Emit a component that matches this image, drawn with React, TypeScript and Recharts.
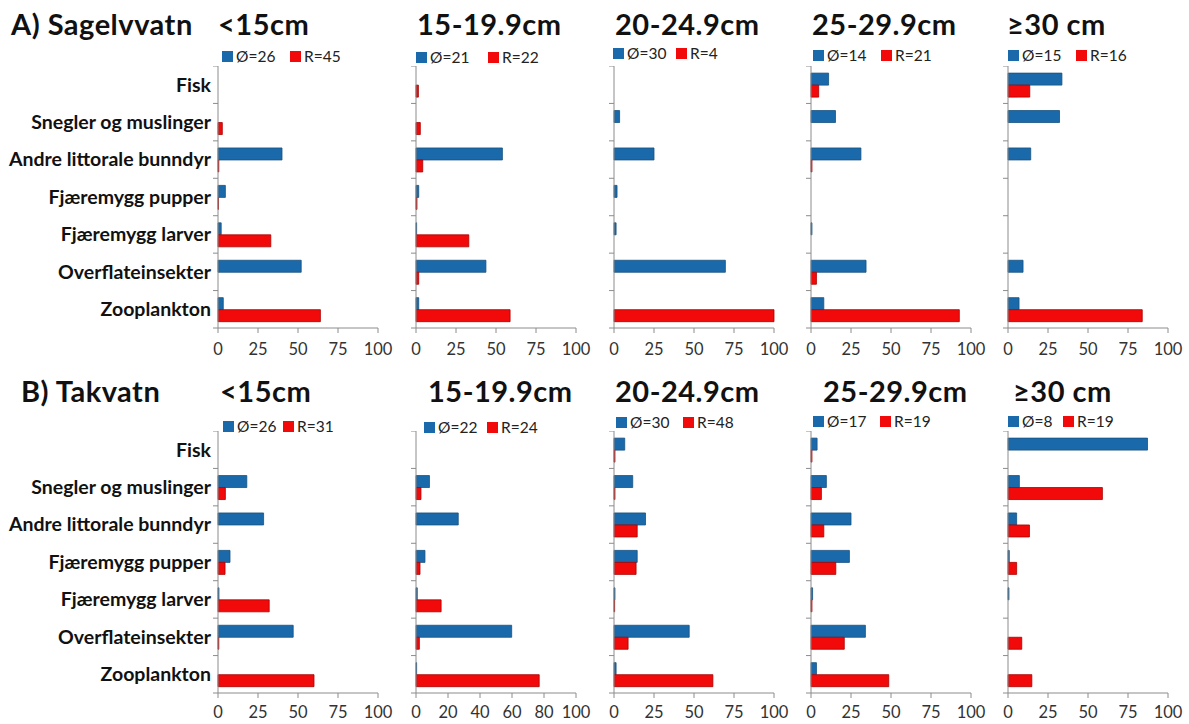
import { BarChart, Bar, XAxis, YAxis } from "recharts";

const categories = [
  "Fisk",
  "Snegler og muslinger",
  "Andre littorale bunndyr",
  "Fjæremygg pupper",
  "Fjæremygg larver",
  "Overflateinsekter",
  "Zooplankton",
];

const sizeClasses = ["<15cm", "15-19.9cm", "20-24.9cm", "25-29.9cm", "≥30 cm"];

// A) Sagelvvatn
const sagO = [
  [0, 0, 40, 4.6, 2, 52, 3.3],
  [0, 0, 54, 1.7, 0.4, 43.7, 1.7],
  [0, 3.5, 25, 1.9, 1.3, 69.6, 0],
  [11, 15.3, 31.2, 0, 0.6, 34.4, 8],
  [33.7, 32.2, 14.2, 0, 0, 9.4, 6.9],
];
const sagR = [
  [0, 2.7, 0.5, 0.3, 33, 0, 64],
  [1.5, 2.7, 4.2, 0.6, 33, 1.7, 58.8],
  [0, 0, 0, 0, 0, 0, 100],
  [4.8, 0, 0.6, 0, 0, 3.4, 92.7],
  [13.6, 0, 0, 0, 0, 0, 83.9],
];
const sagOLabels = ["Ø=26", "Ø=21", "Ø=30", "Ø=14", "Ø=15"];
const sagRLabels = ["R=45", "R=22", "R=4", "R=21", "R=16"];

// B) Takvatn
const takO = [
  [0, 18, 28.5, 7.5, 0.6, 47, 0],
  [0, 8.4, 26.4, 5.6, 0.8, 59.8, 0.4],
  [6.7, 11.7, 19.7, 14.5, 0.6, 47, 1.3],
  [3.8, 9.6, 25, 24, 1, 34, 3.4],
  [87.2, 7.1, 5.4, 0.8, 0.6, 0, 0],
];
const takR = [
  [0, 4.6, 0, 4.4, 32, 0.5, 60],
  [0, 3.1, 0, 2.5, 15.7, 2.1, 77],
  [0.6, 0.6, 14.5, 13.8, 0.4, 8.8, 61.8],
  [0.6, 6.5, 8, 15.5, 0.6, 20.8, 48.6],
  [0, 59, 13.4, 5.4, 0, 8.6, 14.9],
];
const takOLabels = ["Ø=26", "Ø=22", "Ø=30", "Ø=17", "Ø=8"];
const takRLabels = ["R=31", "R=24", "R=48", "R=19", "R=19"];

const ticks25 = [0, 25, 50, 75, 100];
const ticks20 = [0, 20, 40, 60, 80, 100];

const FONT = "Lato, 'Open Sans', sans-serif";
const BLUE = "#1a6aab";
const BLUE_EDGE = "#17507e";
const RED = "#f20a0a";
const RED_EDGE = "#a80000";
const AXIS = "#8c8c8c";
const PLOT_W = 160;
const PLOT_H = 262;
const BAND = PLOT_H / categories.length;

const plotLefts = [218, 416, 614, 811, 1008];

const rows = [
  {
    lake: "A) Sagelvvatn",
    lakeLeft: 11,
    baseline: 35,
    plotTop: 66,
    tickGap: 10,
    o: sagO,
    r: sagR,
    oLabels: sagOLabels,
    rLabels: sagRLabels,
    titleLefts: [218, 417, 615, 812, 1007],
    keys: [
      [222, 290, 56],
      [416, 488, 57],
      [613, 676, 53],
      [813, 881, 55],
      [1008, 1076, 55],
    ],
    ticks: [ticks25, ticks25, ticks25, ticks25, ticks25],
  },
  {
    lake: "B) Takvatn",
    lakeLeft: 21,
    baseline: 402,
    plotTop: 431,
    tickGap: 8,
    o: takO,
    r: takR,
    oLabels: takOLabels,
    rLabels: takRLabels,
    titleLefts: [220, 428, 615, 823, 1013],
    keys: [
      [223, 283, 426],
      [424, 487, 427],
      [616, 683, 422],
      [813, 880, 421],
      [1008, 1063, 421],
    ],
    ticks: [ticks25, ticks20, ticks25, ticks25, ticks25],
  },
];

const CatTick = (props: any) => {
  const { x, y, index, payload, showLabels, axisX } = props;
  return (
    <g>
      <line x1={axisX - 5} x2={axisX} y1={y - BAND / 2} y2={y - BAND / 2} stroke={AXIS} />
      {index === categories.length - 1 && (
        <line x1={axisX - 5} x2={axisX} y1={y + BAND / 2} y2={y + BAND / 2} stroke={AXIS} />
      )}
      {showLabels && (
        <text
          x={x}
          y={y}
          dy="0.35em"
          textAnchor="end"
          fontFamily={FONT}
          fontWeight={700}
          fontSize={19.5}
          fill="#111"
        >
          {payload.value}
        </text>
      )}
    </g>
  );
};

const Panel = ({ o, r, oName, rName, ticks, left, top, showLabels, tickGap }: any) => {
  const data = categories.map((c, i) => ({ cat: c, o: o[i], r: r[i] }));
  const yw = showLabels ? 218 : 12;
  return (
    <div style={{ position: "absolute", left: left - yw, top }}>
      <BarChart
        width={yw + PLOT_W + 16}
        height={PLOT_H + 30}
        data={data}
        layout="vertical"
        margin={{ top: 0, right: 16, bottom: 0, left: 0 }}
        barCategoryGap="19%"
        barGap={0}
      >
        <XAxis
          type="number"
          domain={[0, 100]}
          ticks={ticks}
          interval={0}
          height={30}
          tickSize={5}
          tickMargin={tickGap}
          axisLine={{ stroke: AXIS }}
          tickLine={{ stroke: AXIS }}
          tick={{ fontSize: 16.5, fill: "#333", fontFamily: FONT }}
        />
        <YAxis
          type="category"
          dataKey="cat"
          width={yw}
          tickSize={5}
          tickMargin={2}
          interval={0}
          tickLine={false}
          axisLine={{ stroke: AXIS }}
          tick={<CatTick showLabels={showLabels} axisX={yw} />}
        />
        <Bar dataKey="o" name={oName} fill={BLUE} stroke={BLUE_EDGE} strokeWidth={0.8} isAnimationActive={false} />
        <Bar dataKey="r" name={rName} fill={RED} stroke={RED_EDGE} strokeWidth={0.8} isAnimationActive={false} />
      </BarChart>
    </div>
  );
};

const Key = ({ x, y, color, label }: any) => (
  <div
    style={{
      position: "absolute",
      left: x,
      top: y - 9,
      height: 18,
      display: "flex",
      alignItems: "center",
      fontFamily: FONT,
      fontSize: 15.5,
      color: "#222",
      whiteSpace: "nowrap",
    }}
  >
    <span style={{ width: 11, height: 11, background: color, marginRight: 3, display: "inline-block" }} />
    {label}
  </div>
);

const titleStyle = (left: number, baseline: number, size: number) => ({
  position: "absolute" as const,
  left,
  top: baseline - size * 0.89,
  fontFamily: FONT,
  fontWeight: 700,
  fontSize: size,
  letterSpacing: 0.5,
  lineHeight: `${size}px`,
  color: "#111",
  whiteSpace: "nowrap" as const,
});

export default function App() {
  return (
    <div
      style={{
        position: "fixed",
        left: 0,
        top: 0,
        width: 1189,
        height: 724,
        background: "#fff",
        overflow: "hidden",
      }}
    >
      {rows.map((row) => (
        <div key={row.lake}>
          <div style={titleStyle(row.lakeLeft, row.baseline, 29)}>{row.lake}</div>
          {sizeClasses.map((sc, i) => (
            <div key={sc}>
              <div style={titleStyle(row.titleLefts[i], row.baseline, 29)}>{sc}</div>
              <Key x={row.keys[i][0]} y={row.keys[i][2]} color={BLUE} label={row.oLabels[i]} />
              <Key x={row.keys[i][1]} y={row.keys[i][2]} color={RED} label={row.rLabels[i]} />
              <Panel
                o={row.o[i]}
                r={row.r[i]}
                oName={row.oLabels[i]}
                rName={row.rLabels[i]}
                ticks={row.ticks[i]}
                left={plotLefts[i]}
                top={row.plotTop}
                tickGap={row.tickGap}
                showLabels={i === 0}
              />
            </div>
          ))}
        </div>
      ))}
    </div>
  );
}
